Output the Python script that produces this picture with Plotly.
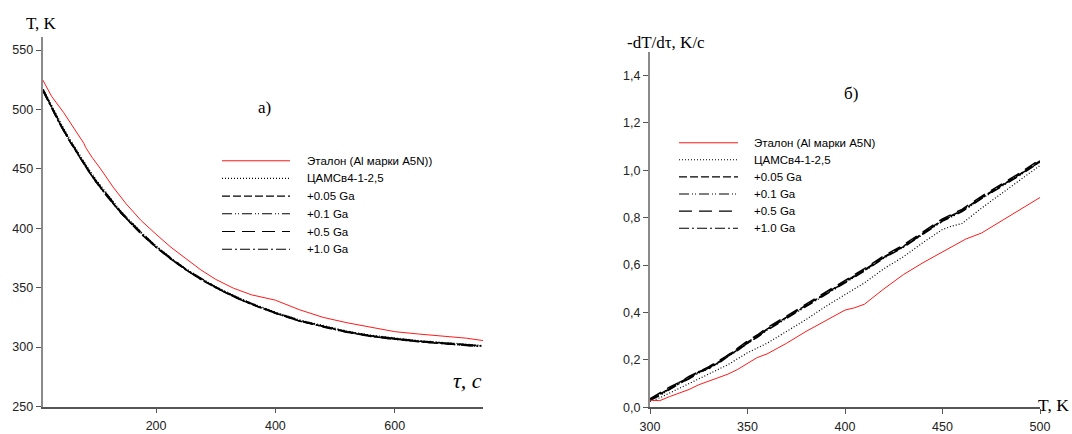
import plotly.graph_objects as go

W, H = 1072, 434

# ---------------- data: panel a) T(tau) ----------------
tau_ref = [10, 25, 45, 65, 79, 82, 93, 107, 129, 150, 175, 200, 225, 250, 275, 300,
           330, 360, 400, 440, 480, 520, 560, 600, 640, 680, 720, 748]
T_ref = [525, 511, 497.5, 482, 471.5, 468, 459.5, 450, 434, 420.5, 406.5, 395, 384,
         374.5, 365, 357, 349.5, 344, 339.5, 331.5, 325, 320.5, 316.5, 313, 311, 309.5,
         307.5, 305.5]

tau_b = [11, 25, 40, 55, 70, 85, 100, 120, 140, 160, 180, 200, 225, 250, 275, 300,
         330, 360, 400, 440, 480, 520, 560, 600, 640, 680, 720, 745]
T_camsv = [517, 503, 489, 475.5, 463, 451.5, 440.5, 427.5, 415, 404.5, 394.5, 385.5,
           375, 366, 358, 351, 343.5, 337, 329.5, 323, 318, 313.5, 310, 307.5, 305.5,
           304, 302.5, 301.5]
T_005 = [516, 501.5, 487, 473.5, 461, 449.5, 439, 426, 413.5, 403, 393, 384, 374,
         365, 357.5, 350, 342.5, 336, 328.5, 322, 317.5, 313, 309.5, 307, 305, 303.5,
         302, 301]
T_01 = [515.5, 501, 486.5, 474, 461.5, 450, 438.5, 425.5, 414, 403.5, 393.5, 384.5,
        374.5, 365.5, 357, 350.5, 343, 336.5, 329, 322.5, 317, 312.5, 309, 306.5, 304.5,
        303, 301.5, 300.5]
T_05 = [516.5, 502, 487.5, 474.5, 462, 450.5, 439.5, 426.5, 414.5, 404, 394, 384.5,
        375, 365.5, 358, 350.5, 343, 336.5, 329, 322.5, 317.5, 313, 309.5, 307, 305,
        303.5, 302, 301]
T_10 = [515, 501, 486.5, 473.5, 461, 449.5, 438.5, 425.5, 413.5, 403, 393, 384, 374,
        365, 357, 350, 342.5, 336, 328.5, 322, 317, 312.5, 309, 306.5, 304.5, 303,
        301.5, 300.5]

# ---------------- data: panel б) -dT/dtau (T) ----------------
T_axis_ref = [300, 305, 310, 315, 320, 325, 330, 340, 345, 350, 355, 360, 370, 380,
              390, 400, 405, 410, 420, 430, 440, 450, 457, 462, 470, 480, 490, 500]
r_ref = [0.03, 0.028, 0.045, 0.06, 0.075, 0.095, 0.11, 0.14, 0.16, 0.185, 0.21, 0.225,
         0.27, 0.32, 0.365, 0.41, 0.42, 0.435, 0.5, 0.56, 0.61, 0.655, 0.69, 0.71,
         0.735, 0.785, 0.835, 0.885]

T_axis_b = [300, 305, 310, 315, 320, 325, 330, 335, 340, 345, 350, 355, 360, 370, 380,
            390, 400, 410, 420, 430, 440, 450, 455, 460, 470, 480, 490, 500]
r_camsv = [0.025, 0.04, 0.06, 0.08, 0.1, 0.12, 0.14, 0.16, 0.18, 0.205, 0.23, 0.25,
           0.27, 0.32, 0.37, 0.425, 0.475, 0.525, 0.585, 0.635, 0.695, 0.75, 0.765,
           0.775, 0.84, 0.9, 0.96, 1.02]
r_005 = [0.035, 0.055, 0.08, 0.105, 0.125, 0.15, 0.165, 0.19, 0.22, 0.245, 0.275, 0.3,
         0.33, 0.38, 0.43, 0.48, 0.53, 0.58, 0.635, 0.68, 0.735, 0.79, 0.81, 0.83,
         0.885, 0.935, 0.985, 1.04]
r_01 = [0.03, 0.05, 0.075, 0.1, 0.12, 0.145, 0.165, 0.185, 0.215, 0.24, 0.27, 0.295,
        0.325, 0.375, 0.425, 0.475, 0.525, 0.575, 0.63, 0.675, 0.73, 0.785, 0.805,
        0.825, 0.88, 0.93, 0.98, 1.035]
r_05 = [0.035, 0.06, 0.085, 0.105, 0.13, 0.15, 0.17, 0.195, 0.22, 0.25, 0.28, 0.305,
        0.335, 0.385, 0.435, 0.485, 0.535, 0.585, 0.64, 0.685, 0.74, 0.795, 0.815,
        0.835, 0.89, 0.94, 0.99, 1.045]
r_10 = [0.03, 0.052, 0.078, 0.1, 0.122, 0.148, 0.162, 0.188, 0.215, 0.242, 0.272,
        0.298, 0.328, 0.378, 0.428, 0.478, 0.528, 0.578, 0.632, 0.678, 0.732, 0.788,
        0.808, 0.828, 0.882, 0.932, 0.982, 1.035]

# ticks / labels
xa_ticks = [200, 400, 600]
ya_ticks = [250, 300, 350, 400, 450, 500, 550]
xb_ticks = [300, 350, 400, 450, 500]
yb_ticks = [0.0, 0.2, 0.4, 0.6, 0.8, 1.0, 1.2, 1.4]
yb_labels = ["0,0", "0,2", "0,4", "0,6", "0,8", "1,0", "1,2", "1,4"]

legend_a = ["Эталон (Al марки A5N))", "ЦАМСв4-1-2,5", "+0.05 Ga", "+0.1 Ga",
            "+0.5 Ga", "+1.0 Ga"]
legend_b = ["Эталон (Al марки A5N)", "ЦАМСв4-1-2,5", "+0.05 Ga", "+0.1 Ga",
            "+0.5 Ga", "+1.0 Ga"]

RED = "#ff1a1a"
BLK = "#000000"
styles = [
    dict(color=RED, width=1.0, dash="solid"),
    dict(color=BLK, width=1.2, dash="1px,2px"),
    dict(color=BLK, width=1.5, dash="8px,3px"),
    dict(color=BLK, width=1.5, dash="10px,3px,1px,2px,1px,3px"),
    dict(color=BLK, width=1.5, dash="13px,7px"),
    dict(color=BLK, width=1.5, dash="10px,3px,2px,3px"),
]

fig = go.Figure()

series_a = [(tau_ref, T_ref), (tau_b, T_camsv), (tau_b, T_005), (tau_b, T_01),
            (tau_b, T_05), (tau_b, T_10)]
series_b = [(T_axis_ref, r_ref), (T_axis_b, r_camsv), (T_axis_b, r_005),
            (T_axis_b, r_01), (T_axis_b, r_05), (T_axis_b, r_10)]

order = [1, 2, 3, 4, 5, 0]
for i in order:
    x, y = series_a[i]
    fig.add_trace(go.Scatter(x=x, y=y, mode="lines", line=styles[i], name=legend_a[i],
                             xaxis="x", yaxis="y", showlegend=False))
for i in order:
    x, y = series_b[i]
    fig.add_trace(go.Scatter(x=x, y=y, mode="lines", line=styles[i], name=legend_b[i],
                             xaxis="x2", yaxis="y2", showlegend=False))

tickfont = dict(family="Liberation Sans, Arial, sans-serif", size=12.5, color="#222")
xline = dict(showline=True, linecolor="#555", linewidth=1.5, ticks="outside",
             ticklen=5, tickcolor="#555", tickwidth=1.2, showgrid=False,
             zeroline=False, tickfont=tickfont, ticklabelstandoff=2, automargin=False)
yline = dict(showline=True, linecolor="#8a8a8a", linewidth=2, ticks="outside",
             ticklen=5, tickcolor="#555", tickwidth=1.2, showgrid=False,
             zeroline=False, tickfont=tickfont, automargin=False)

def px_x(p):
    return p / W

def px_y(p):
    return 1 - p / H

fig.update_layout(
    width=W, height=H, margin=dict(l=0, r=0, t=0, b=0, autoexpand=False),
    paper_bgcolor="white", plot_bgcolor="white", showlegend=False,
    xaxis=dict(domain=[px_x(42.7), px_x(483)], range=[10, 748], tickvals=xa_ticks,
               anchor="y", **xline),
    yaxis=dict(domain=[px_y(406.5), px_y(37)], range=[250, 561], tickvals=ya_ticks,
               anchor="x", **yline),
    xaxis2=dict(domain=[px_x(650), px_x(1040)], range=[300, 500], tickvals=xb_ticks,
                anchor="y2", **xline),
    yaxis2=dict(domain=[px_y(407.3), px_y(51.7)], range=[0, 1.5], tickvals=yb_ticks,
                ticktext=yb_labels, anchor="x2", **yline),
)

serif = "Liberation Serif, Times New Roman, serif"
sans = "Liberation Sans, Arial, sans-serif"
ann = []
def add_text(text, x, y, size, family=serif, xanchor="left"):
    ann.append(dict(text=text, x=px_x(x), y=px_y(y), xref="paper", yref="paper",
                    xanchor=xanchor, yanchor="middle", showarrow=False,
                    font=dict(family=family, size=size, color="#000")))

add_text("T, K", 24, 23, 17)
add_text("а)", 264, 107, 17, xanchor="center")
add_text("<i>τ, с</i>", 484, 380, 22, xanchor="right")
add_text("-dT/dτ, K/c", 625, 42, 17)
add_text("б)", 851, 93, 17, xanchor="center")
add_text("T, K", 1071, 405, 17.5, xanchor="right")

shapes = []
for i in range(6):
    ya = 160.7 + 17.7 * i
    shapes.append(dict(type="line", xref="paper", yref="paper",
                       x0=px_x(222), x1=px_x(290), y0=px_y(ya), y1=px_y(ya),
                       line=dict(color=styles[i]["color"], width=1.1,
                                 dash=styles[i]["dash"])))
    add_text(legend_a[i], 305, ya, 11.5, family=sans)
    yb = 142.7 + 17.1 * i
    shapes.append(dict(type="line", xref="paper", yref="paper",
                       x0=px_x(679), x1=px_x(738), y0=px_y(yb), y1=px_y(yb),
                       line=dict(color=styles[i]["color"], width=1.1,
                                 dash=styles[i]["dash"])))
    add_text(legend_b[i], 752, yb, 11.5, family=sans)

fig.update_layout(annotations=ann, shapes=shapes)
fig.write_html("out.html")
